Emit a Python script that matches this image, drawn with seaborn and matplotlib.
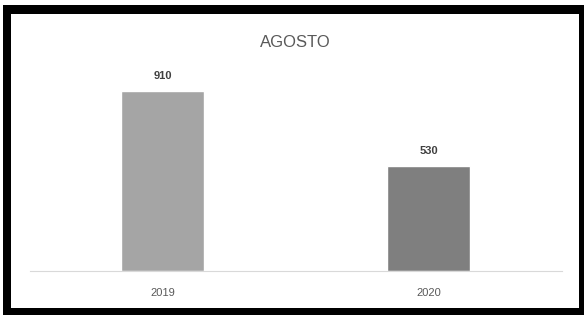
import matplotlib
matplotlib.use("Agg")
import matplotlib.pyplot as plt
import seaborn as sns
import pandas as pd
from matplotlib.patches import Rectangle

# data
years = ["2019", "2020"]
values = [910, 530]
bar_colors = ["#a5a5a5", "#7f7f7f"]
title = "AGOSTO"

df = pd.DataFrame({"year": years, "value": values})

sns.set_theme(style="white")
plt.rcParams["font.family"] = ["Liberation Sans", "DejaVu Sans"]

W, H = 584, 318
fig = plt.figure(figsize=(W / 100, H / 100), dpi=100)
fig.patch.set_facecolor("white")

# thick black frame round the chart
fig.patches.append(Rectangle((3 / W, 3 / H), 581 / W, 310 / H, transform=fig.transFigure,
                             facecolor="black", edgecolor="none", zorder=-2))
fig.patches.append(Rectangle((11 / W, 10 / H), 568 / W, 294 / H, transform=fig.transFigure,
                             facecolor="white", edgecolor="none", zorder=-1))

ax = fig.add_axes([29.5 / W, 47 / H, 532 / W, 197.8 / H])
ax.patch.set_alpha(0)

sns.barplot(data=df, x="year", y="value", hue="year", palette=bar_colors,
            width=0.31, legend=False, ax=ax, saturation=1)

for c in ax.containers:
    ax.bar_label(c, padding=7, fontsize=8, color="#404040", fontweight="bold")

ax.set_ylim(0, 1000)
ax.set_xlim(-0.5, 1.5)
ax.set_yticks([])
ax.set_xlabel("")
ax.set_ylabel("")
ax.tick_params(axis="x", length=0, pad=12, labelsize=8, labelcolor="#595959")
for s in ["top", "left", "right"]:
    ax.spines[s].set_visible(False)
ax.spines["bottom"].set_color("#d9d9d9")
ax.spines["bottom"].set_linewidth(0.8)

ax.set_title(title, fontsize=12, color="#595959", pad=19)

fig.savefig("out.png", dpi=100)
